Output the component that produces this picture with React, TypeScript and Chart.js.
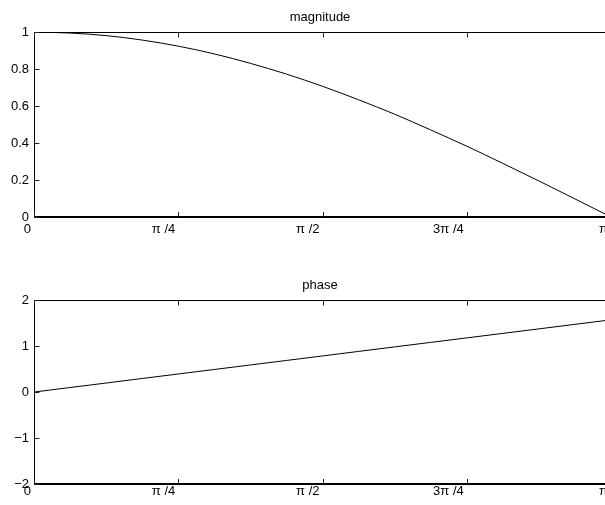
import React, { useEffect, useRef } from "react";
import { Chart, registerables } from "chart.js";

Chart.register(...registerables);

// frequency samples (radians) 0..π
const freq = [0, 0.1963, 0.3927, 0.589, 0.7854, 0.9817, 1.1781, 1.3744, 1.5708, 1.7671, 1.9635, 2.1598, 2.3562, 2.5525, 2.7489, 2.9452, 3.1416];
// magnitude
const magnitude = [1.0, 0.995, 0.981, 0.957, 0.924, 0.882, 0.831, 0.773, 0.707, 0.634, 0.556, 0.471, 0.383, 0.29, 0.195, 0.098, 0.0];
// phase
const phase = [0, 0.098, 0.196, 0.295, 0.393, 0.491, 0.589, 0.687, 0.785, 0.884, 0.982, 1.08, 1.178, 1.276, 1.374, 1.473, 1.571];

const xTickValues = [0, 0.7854, 1.5708, 2.3562, 3.14159];
const xTickLabels = ["0", "π /4", "π /2", "3π /4", "π"];
const magTickValues = [0, 0.2, 0.4, 0.6, 0.8, 1];
const magTickLabels = ["0", "0.2", "0.4", "0.6", "0.8", "1"];
const phaseTickValues = [-2, -1, 0, 1, 2];
const phaseTickLabels = ["−2", "−1", "0", "1", "2"];

const FONT = "'Liberation Sans', Arial, Helvetica, sans-serif";

const axesBox = {
  id: "axesBox",
  afterDatasetsDraw(chart: any) {
    const { ctx, chartArea: a, scales } = chart;
    const xs = scales.x;
    const ys = scales.y;
    const L = Math.round(a.left) + 0.5;
    const T = Math.round(a.top) + 0.5;
    const R = Math.round(a.right) + 0.5;
    const B = Math.round(a.bottom);
    ctx.save();
    ctx.strokeStyle = "#000";
    ctx.lineWidth = 1;
    ctx.beginPath();
    ctx.moveTo(L, B);
    ctx.lineTo(L, T);
    ctx.lineTo(R, T);
    ctx.lineTo(R, B);
    ctx.stroke();
    ctx.lineWidth = 2;
    ctx.beginPath();
    ctx.moveTo(L - 0.5, B);
    ctx.lineTo(R + 0.5, B);
    ctx.stroke();
    ctx.lineWidth = 1;
    ctx.strokeStyle = "#222";
    ctx.beginPath();
    xs.ticks.forEach((t: any) => {
      const px = Math.round(xs.getPixelForValue(t.value)) + 0.5;
      ctx.moveTo(px, B);
      ctx.lineTo(px, B - 5);
      ctx.moveTo(px, T);
      ctx.lineTo(px, T + 5);
    });
    ys.ticks.forEach((t: any) => {
      const py = Math.round(ys.getPixelForValue(t.value)) + 0.5;
      ctx.moveTo(L, py);
      ctx.lineTo(L + 5, py);
      ctx.moveTo(R, py);
      ctx.lineTo(R - 5, py);
    });
    ctx.stroke();
    ctx.restore();
  },
};

type PanelProps = {
  title: string;
  ys: number[];
  yTicks: number[];
  yLabels: string[];
  ymin: number;
  ymax: number;
  height: number;
  padTop: number;
  xAxisHeight: number;
  xLabelPad: number;
};

function Panel(p: PanelProps) {
  const ref = useRef<HTMLCanvasElement | null>(null);
  useEffect(() => {
    if (!ref.current) return;
    const chart = new Chart(ref.current, {
      type: "line",
      data: {
        datasets: [
          {
            data: freq.map((f, i) => ({ x: f, y: p.ys[i] })),
            borderColor: "#000",
            borderWidth: 1,
            pointRadius: 0,
            fill: false,
            cubicInterpolationMode: "monotone",
          },
        ],
      },
      options: {
        responsive: false,
        animation: false,
        layout: { padding: { top: p.padTop, left: 0, right: 0, bottom: 0 } },
        plugins: {
          legend: { display: false },
          tooltip: { enabled: false },
          title: {
            display: true,
            text: p.title,
            color: "#000",
            font: { family: FONT, size: 13, weight: "normal" },
            padding: { top: 10, bottom: 6.5 },
          },
        },
        scales: {
          x: {
            type: "linear",
            min: 0,
            max: 3.14159,
            grid: { display: false, drawTicks: false },
            border: { display: false },
            afterBuildTicks: (s: any) => {
              s.ticks = xTickValues.map((v) => ({ value: v }));
            },
            afterFit: (s: any) => {
              s.height = p.xAxisHeight;
            },
            ticks: {
              callback: (_v: any, i: number) => xTickLabels[i],
              align: "end",
              labelOffset: -3,
              padding: p.xLabelPad,
              maxRotation: 0,
              autoSkip: false,
              color: "#000",
              font: { family: FONT, size: 13 },
            },
          },
          y: {
            type: "linear",
            position: "left",
            min: p.ymin,
            max: p.ymax,
            grid: { display: false, drawTicks: false },
            border: { display: false },
            afterBuildTicks: (s: any) => {
              s.ticks = p.yTicks.map((v) => ({ value: v }));
            },
            afterFit: (s: any) => {
              s.width = 34;
            },
            ticks: {
              callback: (_v: any, i: number) => p.yLabels[i],
              padding: 5,
              autoSkip: false,
              color: "#000",
              font: { family: FONT, size: 13 },
            },
          },
          yRight: {
            type: "linear",
            position: "right",
            min: p.ymin,
            max: p.ymax,
            grid: { display: false, drawTicks: false },
            border: { display: false },
            ticks: { display: false },
            afterFit: (s: any) => {
              s.width = 29;
            },
          },
        },
      } as any,
      plugins: [axesBox],
    });
    return () => chart.destroy();
  }, []);
  return <canvas ref={ref} width={640} height={p.height} style={{ display: "block" }} />;
}

export default function App() {
  return (
    <div
      style={{
        position: "absolute",
        left: 0,
        top: 0,
        width: 605,
        height: 505,
        overflow: "hidden",
        background: "#fff",
      }}
    >
      <Panel
        title="magnitude"
        ys={magnitude}
        yTicks={magTickValues}
        yLabels={magTickLabels}
        ymin={0}
        ymax={1}
        height={250}
        padTop={0}
        xAxisHeight={33}
        xLabelPad={5}
      />
      <Panel
        title="phase"
        ys={phase}
        yTicks={phaseTickValues}
        yLabels={phaseTickLabels}
        ymin={-2}
        ymax={2}
        height={255}
        padTop={18}
        xAxisHeight={21}
        xLabelPad={0}
      />
    </div>
  );
}
